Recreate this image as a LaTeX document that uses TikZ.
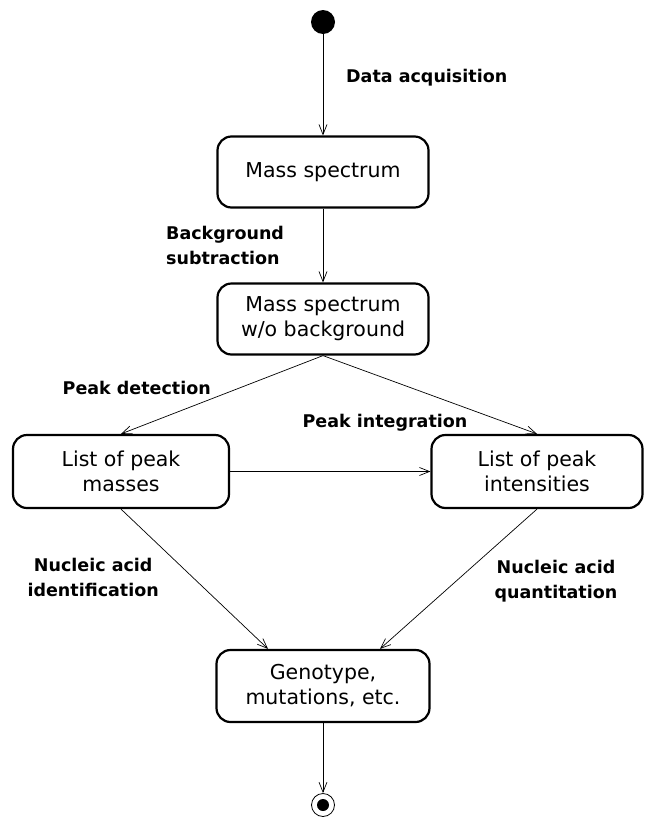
\documentclass[tikz,border=0pt]{standalone}
\usepackage{fontspec}
\setmainfont{DejaVu Sans}
\usetikzlibrary{arrows.meta}

\begin{document}
\begin{tikzpicture}[x=1pt,y=-1pt,
	state/.style={draw,line width=2.2pt,rounded corners=14pt,minimum width=211pt,minimum height=71pt,inner sep=0pt,align=center,font=\fontsize{20.5}{25}\selectfont},
	trans/.style={inner sep=0pt,align=center,font=\bfseries\fontsize{17.5}{25}\selectfont},
	flow/.style={line width=0.7pt,-{Straight Barb[length=10pt,width=8pt]}}]

\useasboundingbox (0,0) rectangle (646,817);

\node[circle,fill,minimum size=24pt,inner sep=0pt] (start) at (323,22) {};
\node[state] (spec) at (323,172) {Mass spectrum};
\node[state] (specbg) at (323,319) {Mass spectrum\\w/o background};
\node[state,minimum width=216pt,minimum height=73pt] (masses) at (121,471.5) {List of peak\\masses};
\node[state,minimum height=73pt] (intens) at (537,471.5) {List of peak\\intensities};
\node[state,minimum width=213pt,minimum height=72pt] (geno) at (323,686) {Genotype,\\mutations, etc.};
\node[circle,draw,line width=0.8pt,minimum size=23pt,inner sep=0pt] (stop) at (323,805) {};
\node[circle,fill,minimum size=12pt,inner sep=0pt] (stopdot) at (stop.center) {};

\node[trans,anchor=west] (acq) at (346,78) {Data acquisition};
\node[trans,anchor=west,align=left] (sub) at (166,245) {Background\\subtraction};
\node[trans,anchor=east] (detect) at (211,388) {Peak detection};
\node[trans] (integ) at (385,423) {Peak integration};
\node[trans,anchor=east] (ident) at (159,577) {Nucleic acid\\identification};
\node[trans] (quant) at (556,581) {Nucleic acid\\quantitation};

\draw[flow] (start) -- (spec);
\draw[flow] (spec) -- (specbg);
\draw[flow] (specbg.south) -- (masses.north);
\draw[flow] (specbg.south) -- (intens.north);
\draw[flow] (masses) -- (intens);
\draw[flow] (masses.south) -- ([xshift=-55pt]geno.north);
\draw[flow] (intens.south) -- ([xshift=57pt]geno.north);
\draw[flow] (geno) -- (stop);

\end{tikzpicture}
\end{document}
